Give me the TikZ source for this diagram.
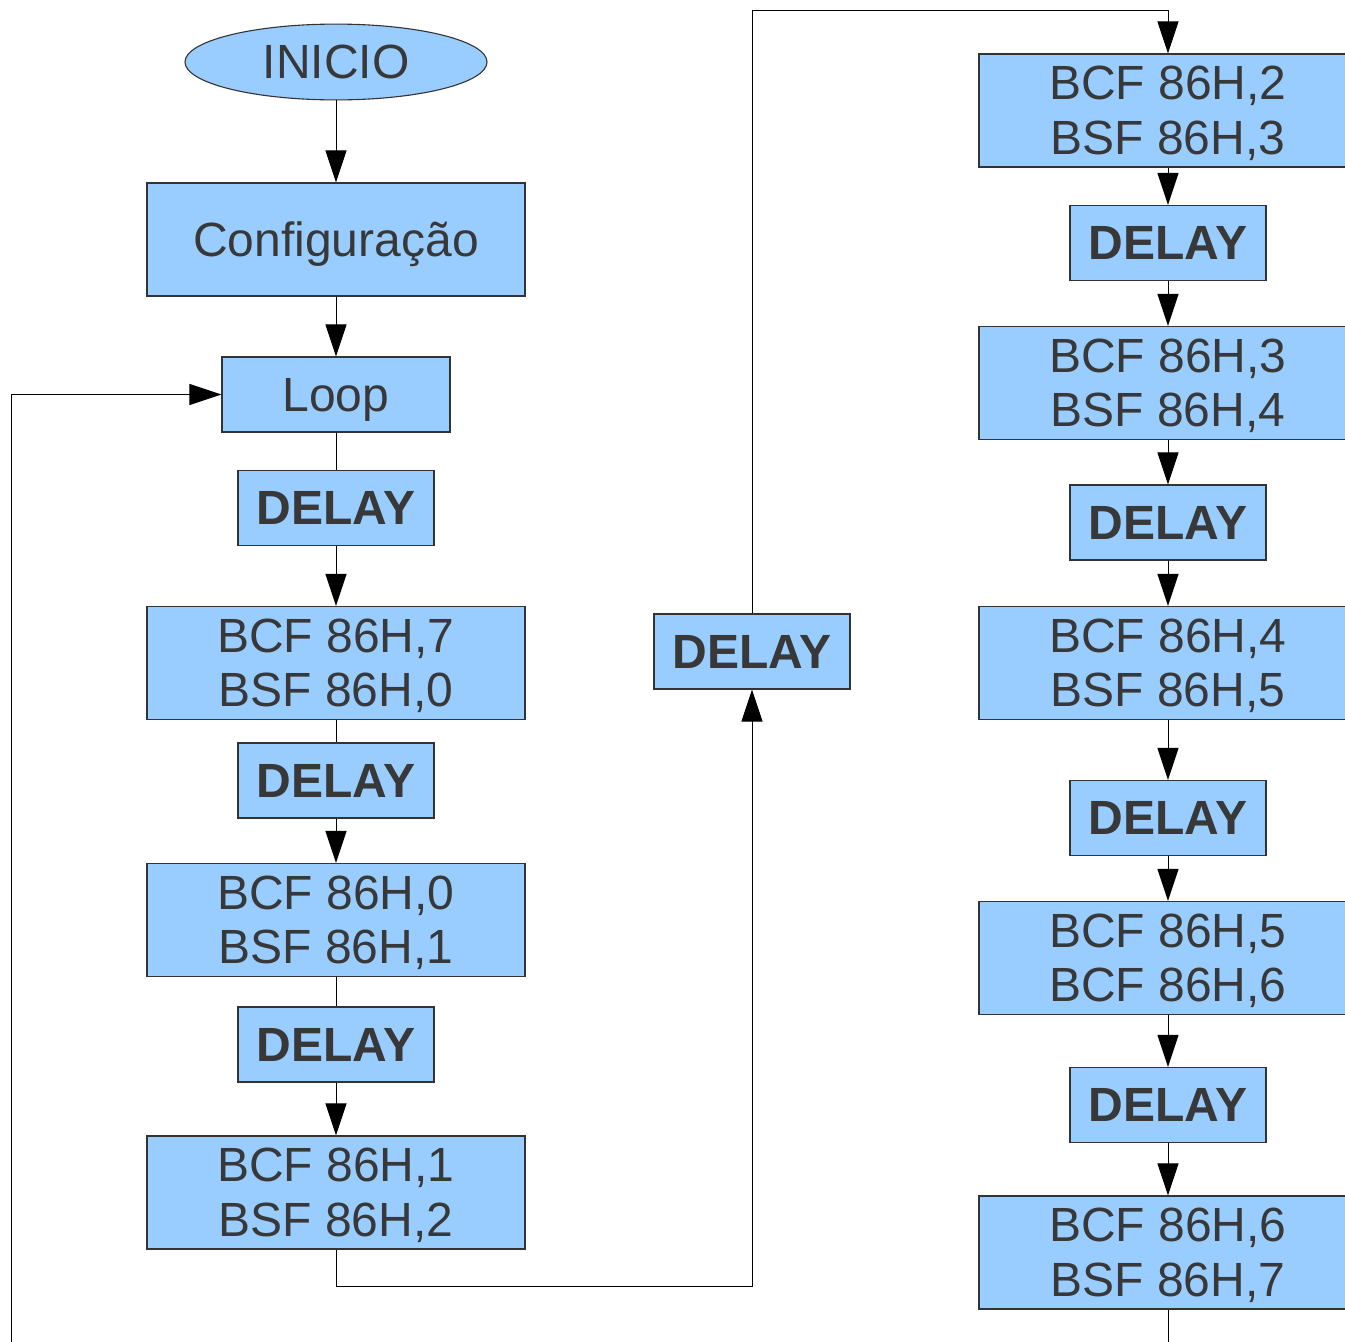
\documentclass[tikz,border=0pt]{standalone}
\usepackage{fontspec}
\setmainfont{Liberation Sans}
\usetikzlibrary{arrows.meta,shapes.geometric}
\definecolor{boxfill}{HTML}{99CCFF}
\definecolor{ink}{HTML}{383838}
\definecolor{edge}{HTML}{333333}
% invisible strut of the font's full ascent and descent, so lines centre like in a text frame
\newcommand\fullstrut{\rule[-0.212em]{0pt}{1.117em}}
% two centred lines, each with a full strut
\newcommand\twolines[2]{\fullstrut#1\\\fullstrut#2}

\begin{document}
\begin{tikzpicture}[x=1pt,y=-1pt,
  base/.style={draw=edge, line width=1.1pt, fill=boxfill, text=ink, inner sep=0pt,
               font=\fontsize{48}{53}\selectfont, align=center},
  wide/.style={base, rectangle, minimum width=378pt, minimum height=113pt},
  delaybox/.style={base, rectangle, minimum width=196pt, minimum height=75pt,
                   font=\fontsize{48}{53}\selectfont\bfseries},
  loopbox/.style={base, rectangle, minimum width=228pt, minimum height=75pt},
  startbox/.style={base, ellipse, minimum width=302pt, minimum height=74pt},
  arr/.style={-{Triangle[length=32pt,width=21pt]}},
  wire/.style={draw=black, line width=1pt}
]
\useasboundingbox (0,0) rectangle (1345,1342);
\clip (0,0) rectangle (1345,1342);

% left column
\node[startbox] (inicio) at (336,62) {\fullstrut INICIO};
\node[wide] (config) at (336,239.5) {\fullstrut Configuração};
\node[loopbox] (loop) at (336,394.5) {\fullstrut Loop};
\node[delaybox] (d1) at (336,508) {\fullstrut DELAY};
\node[wide] (b7) at (336,663) {\twolines{BCF 86H,7}{BSF 86H,0}};
\node[delaybox] (d2) at (336,780.5) {\fullstrut DELAY};
\node[wide] (b0) at (336,920) {\twolines{BCF 86H,0}{BSF 86H,1}};
\node[delaybox] (d3) at (336,1044.5) {\fullstrut DELAY};
\node[wide] (b1) at (336,1192.5) {\twolines{BCF 86H,1}{BSF 86H,2}};

% middle
\node[delaybox] (dm) at (752,651.5) {\fullstrut DELAY};

% right column
\node[wide] (r2) at (1168,110.5) {\twolines{BCF 86H,2}{BSF 86H,3}};
\node[delaybox] (rd1) at (1168,243) {\fullstrut DELAY};
\node[wide] (r3) at (1168,383) {\twolines{BCF 86H,3}{BSF 86H,4}};
\node[delaybox] (rd2) at (1168,522.5) {\fullstrut DELAY};
\node[wide] (r4) at (1168,663) {\twolines{BCF 86H,4}{BSF 86H,5}};
\node[delaybox] (rd3) at (1168,818) {\fullstrut DELAY};
\node[wide] (r5) at (1168,958) {\twolines{BCF 86H,5}{BCF 86H,6}};
\node[delaybox] (rd4) at (1168,1105) {\fullstrut DELAY};
\node[wide] (r6) at (1168,1252.5) {\twolines{BCF 86H,6}{BSF 86H,7}};

% routing points
\coordinate (c1) at (336,1286);
\coordinate (c2) at (752,10);
\coordinate (c3) at (11,1360);
\coordinate (c4) at (1168,1360);

% connectors, left column
\draw[wire,arr] (inicio) -- (config);
\draw[wire,arr] (config) -- (loop);
\draw[wire] (loop) -- (d1);
\draw[wire,arr] (d1) -- (b7);
\draw[wire] (b7) -- (d2);
\draw[wire,arr] (d2) -- (b0);
\draw[wire] (b0) -- (d3);
\draw[wire,arr] (d3) -- (b1);

% over to the middle and the right column
\draw[wire,arr] (b1.south) -- (c1) -| (dm.south);
\draw[wire,arr] (dm.north) -- (c2) -| (r2.north);

% connectors, right column
\draw[wire,arr] (r2) -- (rd1);
\draw[wire,arr] (rd1) -- (r3);
\draw[wire,arr] (r3) -- (rd2);
\draw[wire,arr] (rd2) -- (r4);
\draw[wire,arr] (r4) -- (rd3);
\draw[wire,arr] (rd3) -- (r5);
\draw[wire,arr] (r5) -- (rd4);
\draw[wire,arr] (rd4) -- (r6);
\draw[wire] (r6.south) -- (c4);

% loop back
\draw[wire,arr] (c3) |- (loop.west);
\end{tikzpicture}
\end{document}
